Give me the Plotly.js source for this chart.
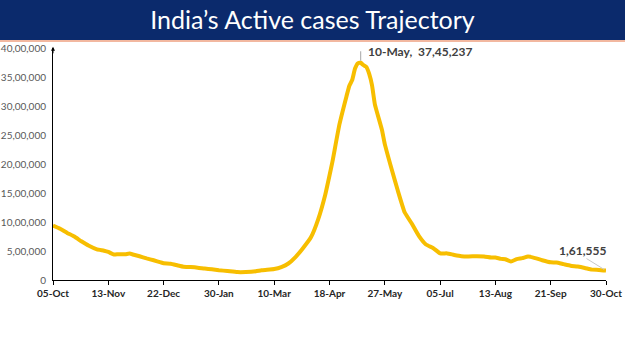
<!DOCTYPE html>
<html>
<head>
<meta charset="utf-8">
<script src="https://cdn.plot.ly/plotly-3.0.1.min.js"></script>
<style>html,body{margin:0;padding:0;background:#fff;}#chart{width:625px;height:351px;}</style>
</head>
<body>
<div id="chart"></div>
<script>
const dates = [
"2020-10-05","2020-10-10","2020-10-15","2020-10-20","2020-10-25","2020-10-30",
"2020-11-05","2020-11-10","2020-11-13","2020-11-17","2020-11-20","2020-11-25","2020-11-28",
"2020-12-01","2020-12-05","2020-12-10","2020-12-15","2020-12-20","2020-12-22","2020-12-27",
"2021-01-01","2021-01-05","2021-01-10","2021-01-15","2021-01-20","2021-01-25","2021-01-30",
"2021-02-05","2021-02-12","2021-02-18","2021-02-25",
"2021-03-01","2021-03-05","2021-03-10","2021-03-15","2021-03-20","2021-03-25","2021-03-30",
"2021-04-05","2021-04-10","2021-04-15","2021-04-18","2021-04-20","2021-04-25","2021-04-30",
"2021-05-02","2021-05-04","2021-05-06","2021-05-08","2021-05-10","2021-05-12","2021-05-14","2021-05-16","2021-05-18",
"2021-05-20","2021-05-25","2021-05-27","2021-06-01","2021-06-05","2021-06-10","2021-06-15","2021-06-20","2021-06-25","2021-06-30",
"2021-07-05","2021-07-10","2021-07-15","2021-07-20","2021-07-25","2021-07-31",
"2021-08-05","2021-08-10","2021-08-13","2021-08-17","2021-08-20","2021-08-24","2021-08-28",
"2021-09-01","2021-09-05","2021-09-10","2021-09-15","2021-09-21","2021-09-25","2021-09-30",
"2021-10-05","2021-10-10","2021-10-15","2021-10-20","2021-10-25","2021-10-30"
];
const activeCases = [
937625,883185,812390,748538,668154,594386,
527962,505265,484547,438667,443794,444746,454940,
435603,409689,372293,339820,303639,289240,281919,
250183,228083,222526,213027,197201,184182,168235,
155025,136549,137342,151708,
168627,176319,189226,223432,284142,395192,540720,
741830,1046631,1471877,1801316,2031977,2682751,3170228,
3349644,3447133,3645164,3736648,3745237,3704099,3673802,3553001,3353765,
3028117,2586782,2343152,1895520,1555248,1167952,973158,760019,612868,552659,
460704,458727,432041,411189,407170,410952,
406822,388508,387673,364129,358829,319551,359775,
376324,404874,378181,340639,304692,301442,273889,
246687,231198,207653,178831,173728,161555
];
const xTickVals = ["2020-10-05","2020-11-13","2020-12-22","2021-01-30","2021-03-10","2021-04-18","2021-05-27","2021-07-05","2021-08-13","2021-09-21","2021-10-30"];
const xTickText = ["05-Oct","13-Nov","22-Dec","30-Jan","10-Mar","18-Apr","27-May","05-Jul","13-Aug","21-Sep","30-Oct"];
const yTickVals = [0,500000,1000000,1500000,2000000,2500000,3000000,3500000,4000000];
const yTickText = ["0","5,00,000","10,00,000","15,00,000","20,00,000","25,00,000","30,00,000","35,00,000","40,00,000"];
const peakDate = "2021-05-10", peakLabel = "10-May,  37,45,237";
const lastDate = "2021-10-30", lastLabel = "1,61,555";
const chartTitle = "India\u2019s Active cases Trajectory";

const peakVal = activeCases[dates.indexOf(peakDate)];
const lastVal = activeCases[dates.indexOf(lastDate)];

const trace = {
  x: dates, y: activeCases, type: "scatter", mode: "lines",
  line: {color: "#F7BE00", width: 4, shape: "spline", smoothing: 0.4},
  hoverinfo: "skip"
};

const layout = {
  width: 625, height: 351,
  margin: {l: 53, r: 19, t: 48, b: 71},
  paper_bgcolor: "#ffffff", plot_bgcolor: "#ffffff",
  showlegend: false,
  font: {family: "Lato, 'Open Sans', sans-serif"},
  title: {text: chartTitle, x: 0.5, xref: "container", xanchor: "center", y: 0.943, yref: "container", yanchor: "middle",
          font: {family: "Lato, 'Open Sans', sans-serif", size: 25, color: "#ffffff"}},
  xaxis: {
    type: "date", range: ["2020-10-05", "2021-10-30"],
    tickvals: xTickVals, ticktext: xTickText,
    showgrid: false, zeroline: false, showline: true, linecolor: "#000000", linewidth: 1,
    ticks: "outside", ticklen: 4, tickcolor: "#000000",
    tickfont: {family: "Lato, sans-serif", size: 10, color: "#262626", weight: "bold"}
  },
  yaxis: {
    range: [0, 4000000], tickvals: yTickVals, ticktext: yTickText,
    showgrid: false, zeroline: false, showline: true, linecolor: "#000000", linewidth: 1,
    ticks: "", ticklabelstandoff: 4,
    tickfont: {family: "Lato, sans-serif", size: 10, color: "#595959"}
  },
  shapes: [
    {type: "rect", xref: "paper", yref: "paper", x0: -0.1, x1: 1.04, y0: 1.0345, y1: 1.21,
     fillcolor: "#0B2A6C", line: {width: 0}, layer: "below"},
    {type: "rect", xref: "paper", yref: "paper", x0: -0.1, x1: 1.04, y0: 1.026, y1: 1.0345,
     fillcolor: "#F2B8A0", line: {width: 0}, layer: "below"}
  ],
  annotations: [
    {x: 0, y: 1.005, xref: "paper", yref: "paper", text: "", showarrow: true, arrowhead: 2, arrowsize: 0.8,
     arrowwidth: 1, arrowcolor: "#000000", ax: 0, ay: 8},
    {x: peakDate, y: peakVal, text: "", showarrow: true, arrowhead: 0, arrowwidth: 1, arrowcolor: "#A6A6A6",
     ax: 0, ay: -13, standoff: 2},
    {x: peakDate, y: peakVal, text: peakLabel, showarrow: false, xanchor: "left", yanchor: "middle",
     xshift: 5, yshift: 11, font: {family: "Lato, sans-serif", size: 12, color: "#404040", weight: "bold"}},
    {x: lastDate, y: lastVal, text: "", showarrow: true, arrowhead: 0, arrowwidth: 1, arrowcolor: "#C8C8C8",
     ax: -21, ay: -13, standoff: 2},
    {x: lastDate, y: lastVal, text: lastLabel, showarrow: false, xanchor: "center", yanchor: "middle",
     xshift: -24, yshift: 20, font: {family: "Lato, sans-serif", size: 12, color: "#404040", weight: "bold"}}
  ]
};

Plotly.newPlot("chart", [trace], layout, {displayModeBar: false, staticPlot: true});
</script>
</body>
</html>
